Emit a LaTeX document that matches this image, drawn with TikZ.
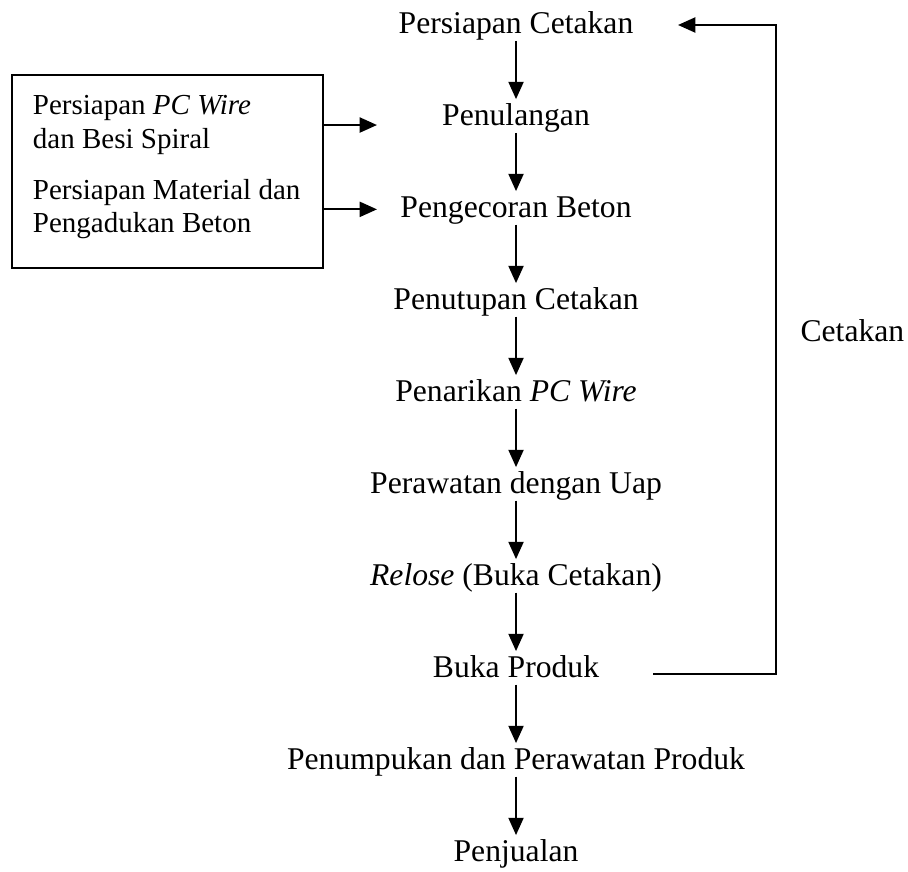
\documentclass[tikz,border=0pt]{standalone}
\usepackage{fontspec}
\setmainfont{Liberation Serif}
\usetikzlibrary{arrows.meta}

\begin{document}
\begin{tikzpicture}[->,>={Triangle[width=2mm,length=2.3mm]},node distance=1.226cm,line width=0.75pt,
  font=\fontsize{12pt}{13.2pt}\selectfont,
  tahap/.style={inner sep=0pt,text height=0.95em,text depth=0.25em},
  siap/.style={align=left,inner sep=0pt,anchor=west,font=\fontsize{11pt}{12.65pt}\selectfont}]

\useasboundingbox (0,0) rectangle (12.101,-11.608);

\node[tahap](q0) at (6.877,-0.319){Persiapan Cetakan};
\node[tahap](q1)[below of=q0]{Penulangan};
\node[tahap](q2)[below of=q1]{Pengecoran Beton};
\node[tahap](q3)[below of=q2]{Penutupan Cetakan};
\node[tahap](q4)[below of=q3]{Penarikan \textit{PC Wire}};
\node[tahap](q5)[below of=q4]{Perawatan dengan Uap};
\node[tahap](q6)[below of=q5]{\textit{Relose} (Buka Cetakan)};
\node[tahap](q7)[below of=q6]{Buka Produk};
\node[tahap](q8)[below of=q7]{Penumpukan dan Perawatan Produk};
\node[tahap](q9)[below of=q8]{Penjualan};

\node[draw,minimum width=4.145cm,minimum height=2.572cm](prep) at (2.232,-2.286){};
\node[siap](wire) at (0.426,-1.666){Persiapan \textit{PC Wire}\\dan Besi Spiral};
\node[siap](mat) at (0.426,-2.790){Persiapan Material dan\\Pengadukan Beton};
\coordinate (tip) at (5.024,0);

\coordinate (fbout) at (8.703,-8.982);
\coordinate (fbtop) at (10.342,-0.333);
\coordinate (fbin) at (9.036,-0.333);
\node(lbl) at (11.36,-4.412){Cetakan};

\path(q0)edge(q1)
	(q1)edge(q2)
	(q2)edge(q3)
	(q3)edge(q4)
	(q4)edge(q5)
	(q5)edge(q6)
	(q6)edge(q7)
	(q7)edge(q8)
	(q8)edge(q9);

\draw(wire -| prep.east)--(wire -| tip);
\draw(mat -| prep.east)--(mat -| tip);
\draw(fbout)-|(fbtop)--(fbin);

\end{tikzpicture}
\end{document}
